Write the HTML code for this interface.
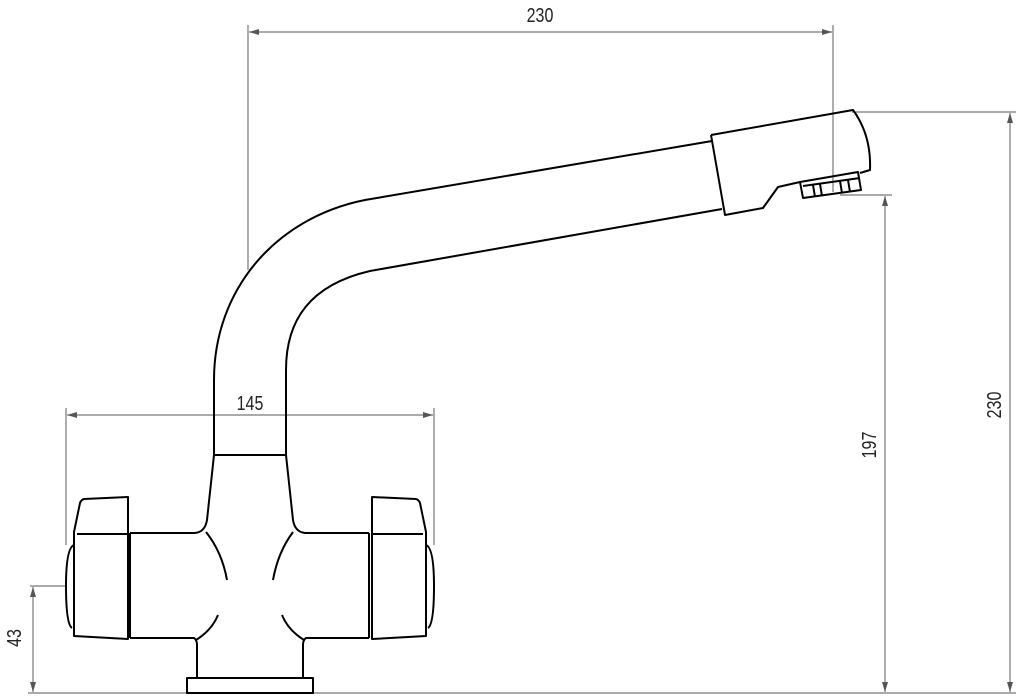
<!DOCTYPE html>
<html><head><meta charset="utf-8"><style>
html,body{margin:0;padding:0;background:#fff;}
svg{display:block;}
text{font-family:"Liberation Sans",sans-serif;font-size:20px;fill:#222;}
</style></head><body>
<svg width="1024" height="699" viewBox="0 0 1024 699" xmlns="http://www.w3.org/2000/svg">
<defs>
<marker id="a" markerWidth="10" markerHeight="6" refX="10" refY="3" orient="auto-start-reverse" markerUnits="userSpaceOnUse"><path d="M0,0 L10,3 L0,6 Z" fill="#555"/></marker>
</defs>
<g stroke="#777" stroke-width="1.2" fill="none">
<line x1="248" y1="25" x2="248" y2="270"/>
<line x1="833" y1="25" x2="833" y2="192"/>
<line x1="249" y1="32" x2="832" y2="32" marker-start="url(#a)" marker-end="url(#a)"/>
<line x1="852" y1="112" x2="1016" y2="112"/>
<line x1="1010" y1="113" x2="1010" y2="692" marker-start="url(#a)" marker-end="url(#a)"/>
<line x1="840" y1="195" x2="892" y2="195"/>
<line x1="885" y1="196" x2="885" y2="692" marker-start="url(#a)" marker-end="url(#a)"/>
<line x1="66" y1="408" x2="66" y2="545"/>
<line x1="434" y1="408" x2="434" y2="545"/>
<line x1="67" y1="415" x2="433" y2="415" marker-start="url(#a)" marker-end="url(#a)"/>
<line x1="30" y1="586" x2="66" y2="586"/>
<line x1="33" y1="587" x2="33" y2="692" marker-start="url(#a)" marker-end="url(#a)"/>
<line x1="28" y1="693" x2="1016" y2="693"/>
</g>
<g text-anchor="middle">
<text x="540" y="22" transform="translate(540 0) scale(0.8 1) translate(-540 0)">230</text>
<text x="250" y="410" transform="translate(250 0) scale(0.8 1) translate(-250 0)">145</text>
<text transform="translate(1001 405) rotate(-90) scale(0.8 1)" x="0" y="0">230</text>
<text transform="translate(876 445) rotate(-90) scale(0.8 1)" x="0" y="0">197</text>
<text transform="translate(21 638) rotate(-90) scale(0.8 1)" x="0" y="0">43</text>
</g>
<g stroke="#000" stroke-width="2" fill="none" stroke-linejoin="round">
<path d="M712,141 L365,200 C275,218 214,290 214,380 L214,455"/>
<path d="M722,209 L370,271 C310,285 286,320 286,370 L286,455"/>
<path d="M711,135 L853,110 C864,125 871,145 870,170 L860,173"/>
<path d="M711,135 L725,215 L763,208 L778,187 L800,182"/>
<path d="M800,182 L858,172 L861,190 L803,198 Z"/>
<path d="M803,186 L860,178"/>
<path d="M813,185 L815,197 M820,184 L822,196 M840,181 L842,193 M848,180 L850,192"/>
<line x1="214" y1="455" x2="286" y2="455"/>
<path d="M214,455 L207,520 Q205,532 195,533 L130,533"/>
<path d="M286,455 L293,520 Q295,532 305,533 L369,533"/>
<path d="M130,638 L194,638 Q197,640 197,645 L197,678"/>
<path d="M369,638 L306,638 Q303,640 303,645 L303,678"/>
<rect x="187" y="678" width="126" height="15"/>
<path d="M206,532 Q222,552 227,580"/>
<path d="M218,615 Q212,630 196,640"/>
<path d="M293,532 Q278,552 273,580"/>
<path d="M282,615 Q288,630 304,640"/>
<line x1="130" y1="533" x2="130" y2="638"/>
<path d="M128,497 L84,499 Q81,500 80,503 L74,532 L74,636 L128,639 Z"/>
<line x1="77" y1="534" x2="128" y2="534"/>
<path d="M74,545 Q66,548 66,586 Q66,624 72,628"/>
<line x1="369" y1="533" x2="369" y2="638"/>
<path d="M372,497 L416,499 Q419,500 420,503 L426,532 L426,636 L372,639 Z"/>
<line x1="372" y1="534" x2="423" y2="534"/>
<path d="M426,545 Q434,548 434,586 Q434,624 428,628"/>
</g>
</svg>
</body></html>
